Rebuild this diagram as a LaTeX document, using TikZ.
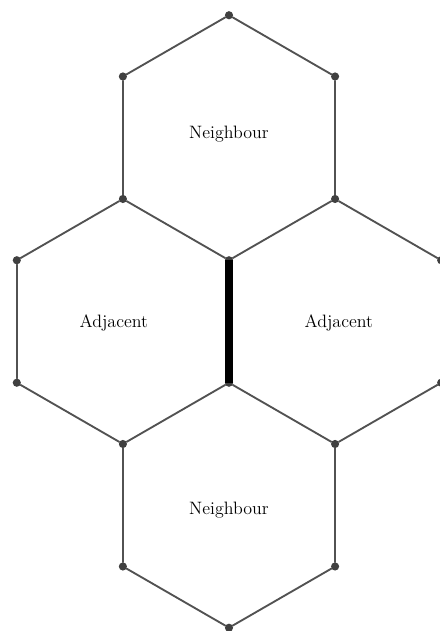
\documentclass[tikz,border=0pt]{standalone}
\usepackage{amsmath,amssymb}
\usetikzlibrary{positioning}

\begin{document}
\begin{tikzpicture}[x=1cm,y=1cm]
\tikzset{
  hexvertex/.style={circle,fill=black!75,draw=none,minimum size=2mm,inner sep=0pt},
  hexedge/.style={draw=black!68,line width=1.3pt,line cap=round,line join=round},
  sharededge/.style={draw=black,line width=5pt},
  hexlabel/.style={font=\fontsize{12.5}{15}\selectfont}
}
\useasboundingbox (-5.608,-7.580) rectangle (5.167,7.873);
\node[hexvertex] (v_t0) at (0,7.5) {};
\node[hexvertex] (v_t1) at (-2.598,6) {};
\node[hexvertex] (v_t2) at (2.598,6) {};
\node[hexvertex] (v_m1) at (-2.598,3) {};
\node[hexvertex] (v_m2) at (2.598,3) {};
\node[hexvertex] (v_c0) at (0,1.5) {};
\node[hexvertex] (v_c1) at (0,-1.5) {};
\node[hexvertex] (v_l0) at (-5.196,1.5) {};
\node[hexvertex] (v_l1) at (-5.196,-1.5) {};
\node[hexvertex] (v_r0) at (5.196,1.5) {};
\node[hexvertex] (v_r1) at (5.196,-1.5) {};
\node[hexvertex] (v_b1) at (-2.598,-3) {};
\node[hexvertex] (v_b2) at (2.598,-3) {};
\node[hexvertex] (v_b3) at (-2.598,-6) {};
\node[hexvertex] (v_b4) at (2.598,-6) {};
\node[hexvertex] (v_b0) at (0,-7.5) {};
\node[hexlabel] (lab_top) at (0,4.59) {Neighbour};
\node[hexlabel] (lab_left) at (-2.82,-0.04) {Adjacent};
\node[hexlabel] (lab_right) at (2.69,-0.04) {Adjacent};
\node[hexlabel] (lab_bottom) at (0,-4.62) {Neighbour};
\draw[hexedge] (v_t0) -- (v_t1);
\draw[hexedge] (v_t0) -- (v_t2);
\draw[hexedge] (v_t1) -- (v_m1);
\draw[hexedge] (v_t2) -- (v_m2);
\draw[hexedge] (v_m1) -- (v_c0);
\draw[hexedge] (v_m2) -- (v_c0);
\draw[hexedge] (v_m1) -- (v_l0);
\draw[hexedge] (v_l0) -- (v_l1);
\draw[hexedge] (v_l1) -- (v_b1);
\draw[hexedge] (v_b1) -- (v_c1);
\draw[hexedge] (v_m2) -- (v_r0);
\draw[hexedge] (v_r0) -- (v_r1);
\draw[hexedge] (v_r1) -- (v_b2);
\draw[hexedge] (v_b2) -- (v_c1);
\draw[hexedge] (v_b1) -- (v_b3);
\draw[hexedge] (v_b2) -- (v_b4);
\draw[hexedge] (v_b3) -- (v_b0);
\draw[hexedge] (v_b4) -- (v_b0);
\draw[sharededge] (v_c0.center) -- (v_c1.center);
\end{tikzpicture}
\end{document}
